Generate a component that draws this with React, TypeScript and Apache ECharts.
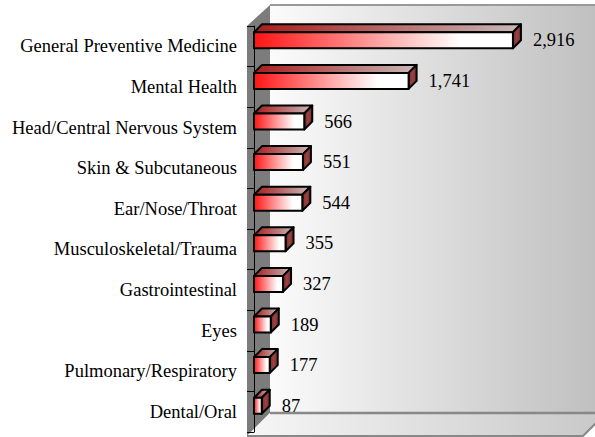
import React, { useEffect, useRef } from "react";
import * as echarts from "echarts";

const categories = [
  "General Preventive Medicine",
  "Mental Health",
  "Head/Central Nervous System",
  "Skin & Subcutaneous",
  "Ear/Nose/Throat",
  "Musculoskeletal/Trauma",
  "Gastrointestinal",
  "Eyes",
  "Pulmonary/Respiratory",
  "Dental/Oral",
];
const values = [2916, 1741, 566, 551, 544, 355, 327, 189, 177, 87];

const FONT = "'Liberation Serif', 'Times New Roman', serif";

export default function App() {
  const ref = useRef<HTMLDivElement>(null);
  useEffect(() => {
    if (!ref.current) return;
    const chart = echarts.init(ref.current, null, { renderer: "svg" });
    const data = values.map((v, i) => [v, i]);
    const D = 8;
    const option: any = {
      animation: false,
      backgroundColor: "#ffffff",
      grid: { left: 254, top: 26, width: 266.4, height: 406 },
      xAxis: {
        type: "value",
        min: 0,
        max: 3000,
        show: false,
      },
      yAxis: {
        type: "category",
        data: categories,
        inverse: true,
        offset: 8,
        axisLine: { show: true, lineStyle: { color: "#000", width: 1 } },
        axisTick: { show: true, length: 7, lineStyle: { color: "#000" } },
        axisLabel: {
          color: "#000",
          fontFamily: FONT,
          fontSize: 18.5,
          margin: 9,
        },
        splitLine: { show: false },
        z: 3,
      },
      graphic: {
        elements: [
          {
            type: "group",
            z: 0,
            children: [
              {
                type: "polygon",
                shape: { points: [[270, 5], [610, 5], [610, 413], [270, 413]] },
                style: {
                  fill: new echarts.graphic.LinearGradient(0, 0, 1, 0, [
                    { offset: 0, color: "#fbfbfb" },
                    { offset: 1, color: "#bdbdbd" },
                  ]),
                },
              },
              {
                type: "polyline",
                shape: { points: [[270, 5], [610, 5]] },
                style: { stroke: "#999", lineWidth: 2, fill: null },
              },
              {
                type: "polygon",
                shape: { points: [[247, 26], [270, 5], [270, 413], [247, 436]] },
                style: { fill: "#7c7c7c" },
              },
              {
                type: "polygon",
                shape: { points: [[247, 436], [270, 413], [606, 413], [583, 436]] },
                style: {
                  fill: new echarts.graphic.LinearGradient(0, 0, 1, 0, [
                    { offset: 0, color: "#f6f6f6" },
                    { offset: 1, color: "#c8c8c8" },
                  ]),
                },
              },
              {
                type: "polyline",
                shape: { points: [[270, 413], [606, 413]] },
                style: { stroke: "#888", lineWidth: 2.5, fill: null },
              },
              {
                type: "polyline",
                shape: { points: [[247, 436], [583, 436], [606, 413]] },
                style: { stroke: "#888", lineWidth: 2, fill: null },
              },
            ],
          },
        ],
      },
      series: [
        {
          type: "custom",
          encode: { x: 0, y: 1 },
          data,
          z: 5,
          renderItem: (params: any, api: any) => {
            const v = api.value(0);
            const idx = api.value(1);
            const end = api.coord([v, idx]);
            const start = api.coord([0, idx]);
            const x0 = start[0];
            const x1 = end[0];
            const yT = end[1] - 14;
            const yB = end[1] + 2;
            const stroke = { stroke: "#000", lineWidth: 2, lineJoin: "round" };
            return {
              type: "group",
              children: [
                {
                  type: "polygon",
                  shape: { points: [[x0, yT], [x0 + D, yT - D], [x1 + D, yT - D], [x1, yT]] },
                  style: {
                    fill: new echarts.graphic.LinearGradient(0, 0, 1, 0, [
                      { offset: 0, color: "#a81c1c" },
                      { offset: 1, color: "#c8b8b8" },
                    ]),
                    ...stroke,
                  },
                },
                {
                  type: "polygon",
                  shape: { points: [[x1, yT], [x1 + D, yT - D], [x1 + D, yB - D], [x1, yB]] },
                  style: {
                    fill: new echarts.graphic.LinearGradient(0, 0, 1, 0, [
                      { offset: 0, color: "#6e3030" },
                      { offset: 0.5, color: "#a04040" },
                      { offset: 1, color: "#6e3030" },
                    ]),
                    ...stroke,
                  },
                },
                {
                  type: "rect",
                  shape: { x: x0, y: yT, width: x1 - x0, height: yB - yT },
                  style: {
                    fill: new echarts.graphic.LinearGradient(0, 0, 1, 0, [
                      { offset: 0, color: "#ff1414" },
                      { offset: 0.45, color: "#ff9a9a" },
                      { offset: 0.8, color: "#ffffff" },
                      { offset: 1, color: "#ffffff" },
                    ]),
                    ...stroke,
                  },
                },
                {
                  type: "text",
                  x: x1 + D + 12,
                  y: end[1] - 6,
                  style: {
                    text: v.toLocaleString("en-US"),
                    fontFamily: FONT,
                    fontSize: 18.5,
                    fill: "#000",
                    verticalAlign: "middle",
                    align: "left",
                  },
                },
              ],
            };
          },
        },
      ],
    };
    chart.setOption(option);
    return () => chart.dispose();
  }, []);
  return <div ref={ref} style={{ width: 595, height: 437, position: "absolute", left: 0, top: 0 }} />;
}
